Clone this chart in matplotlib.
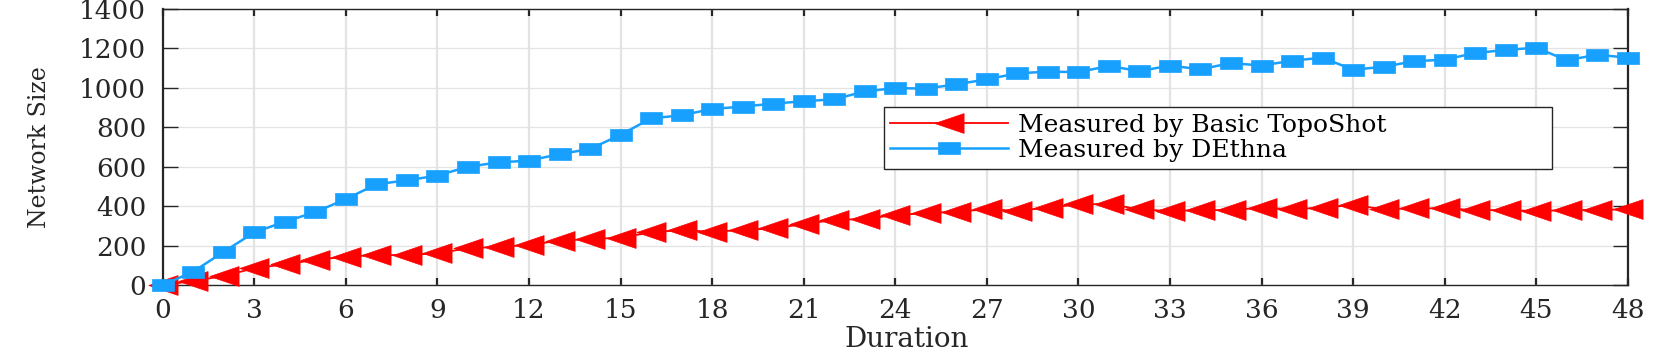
"""Network size over time: Basic TopoShot vs. DEthna (MATLAB-style line chart)."""

import matplotlib

matplotlib.use("Agg")

import matplotlib.pyplot as plt
from matplotlib.path import Path

# data
duration = list(range(0, 49))
toposhot = [0, 20, 46, 85, 105, 127, 144, 152, 152, 161,
            186, 194, 203, 225, 233, 240, 267, 279, 270, 279,
            287, 309, 330, 335, 355, 364, 372, 384, 377, 392,
            409, 411, 384, 375, 380, 380, 392, 385, 392, 406,
            384, 389, 389, 380, 380, 375, 380, 380, 385]
dethna = [0, 68, 169, 267, 321, 370, 436, 511, 531, 555,
          600, 622, 631, 664, 690, 762, 845, 861, 893, 905,
          920, 932, 942, 982, 999, 996, 1018, 1043, 1074, 1082,
          1080, 1111, 1085, 1113, 1094, 1126, 1113, 1138, 1153, 1092,
          1107, 1135, 1143, 1177, 1192, 1204, 1140, 1168, 1153]
series_labels = ["Measured by Basic TopoShot", "Measured by DEthna"]
x_ticks = list(range(0, 49, 3))
y_ticks = list(range(0, 1401, 200))

RED = "#ff0000"
BLUE = "#18a0ff"
INK = "#262626"

# the original figure is stretched sideways, so markers are wider than tall
def closed_path(verts):
    return Path(verts + [verts[0]], closed=True)


WIDE_SQUARE = closed_path([(-1, -0.52), (1, -0.52), (1, 0.52), (-1, 0.52)])
WIDE_LEFT_TRIANGLE = closed_path([(-1, 0), (1, 0.68), (1, -0.68)])

plt.rcParams["font.family"] = ["DejaVu Serif"]

fig = plt.figure(figsize=(16.61, 3.6), dpi=100)
ax = fig.add_axes([0.098, 0.2083, 0.882, 0.7667])

ax.plot(duration, toposhot, color=RED, linewidth=1.3, marker=WIDE_LEFT_TRIANGLE,
        markersize=21, markerfacecolor=RED, markeredgecolor=RED, markeredgewidth=0.5,
        clip_on=False, zorder=3, label=series_labels[0])
ax.plot(duration, dethna, color=BLUE, linewidth=1.8, marker=WIDE_SQUARE,
        markersize=15.6, markerfacecolor=BLUE, markeredgecolor=BLUE, markeredgewidth=0.5,
        clip_on=False, zorder=4, label=series_labels[1])

ax.set_xlim(0, 48)
ax.set_ylim(0, 1400)
ax.set_xticks(x_ticks)
ax.set_yticks(y_ticks)

ax.xaxis.grid(True, color="#e3e3e3", linewidth=1.6)
ax.yaxis.grid(True, color="#e3e3e3", linewidth=0.9)
ax.set_axisbelow(True)

for side in ("left", "right"):
    ax.spines[side].set_linewidth(1.6)
    ax.spines[side].set_color(INK)
for side in ("top", "bottom"):
    ax.spines[side].set_linewidth(1.0)
    ax.spines[side].set_color(INK)

ax.tick_params(axis="x", direction="in", length=5, width=1.6, top=True, bottom=True,
               labelsize=19, labelcolor=INK, color=INK, pad=9)
ax.tick_params(axis="y", direction="in", length=11, width=1.0, left=True, right=True,
               labelsize=19, labelcolor=INK, color=INK, pad=12)

ax.set_xlabel("Duration", fontsize=20, color=INK)
ax.xaxis.set_label_coords(0.508, -0.15)
ax.set_ylabel("Network Size", fontsize=17, color=INK)
ax.yaxis.set_label_coords(-0.076, 0.5)

leg = ax.legend(loc="upper left", bbox_to_anchor=(0.492, 0.42, 0.456, 0.225), mode="expand",
                fontsize=18, frameon=True, fancybox=False, framealpha=1.0, edgecolor=INK,
                borderpad=0.27, labelspacing=0.1, handlelength=4.7, handletextpad=0.4,
                borderaxespad=0.0, numpoints=1)
leg.get_frame().set_linewidth(1.0)

fig.savefig("out.png", dpi=100)
